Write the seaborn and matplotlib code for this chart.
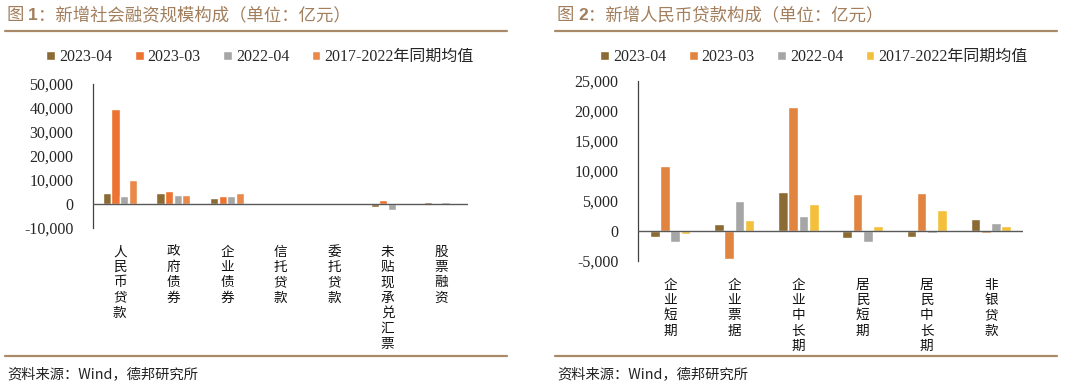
import matplotlib
matplotlib.use("Agg")
import matplotlib.pyplot as plt
from matplotlib.lines import Line2D
from matplotlib.ticker import FuncFormatter
import seaborn as sns
import pandas as pd

sns.set_theme(style="white")
plt.rcParams['font.family'] = ['Liberation Serif', 'Noto Sans CJK SC']

# ---------------- data ----------------
series = ["2023-04", "2023-03", "2022-04", "2017-2022年同期均值"]

cats1 = ["人民币贷款", "政府债券", "企业债券", "信托贷款", "委托贷款", "未贴现承兑汇票", "股票融资"]
s1_2304 = [4431, 4548, 2600, -50, 30, -1100, 700]
s1_2303 = [39400, 5600, 3200, -30, 20, 1500, 100]
s1_2204 = [3300, 3900, 3400, -40, -30, -2300, 800]
s1_avg = [10200, 3800, 4600, -40, -100, -150, 500]

cats2 = ["企业短期", "企业票据", "企业中长期", "居民短期", "居民中长期", "非银贷款"]
s2_2304 = [-950, 1150, 6550, -1100, -1050, 2050]
s2_2303 = [10800, -4700, 20650, 6100, 6330, -380]
s2_2204 = [-1830, 5050, 2550, -1780, -280, 1330]
s2_avg = [-440, 1830, 4500, 780, 3440, 890]

yticks1 = [-10000, 0, 10000, 20000, 30000, 40000, 50000]
yticks2 = [-5000, 0, 5000, 10000, 15000, 20000, 25000]

title1_a, title1_b = "图 ", "1"
title1_c = "：新增社会融资规模构成（单位：亿元）"
title2_a, title2_b = "图 ", "2"
title2_c = "：新增人民币贷款构成（单位：亿元）"
source = "资料来源：Wind，德邦研究所"

pal1 = ["#8C6A33", "#EE7330", "#A6A6A6", "#E8894A"]
pal2 = ["#8C6A33", "#E0843F", "#A6A6A6", "#F4C03C"]


def long_df(cats, cols):
    rows = []
    for s, vals in zip(series, cols):
        for c, v in zip(cats, vals):
            rows.append({"cat": c, "series": s, "val": v})
    return pd.DataFrame(rows)


df1 = long_df(cats1, [s1_2304, s1_2303, s1_2204, s1_avg])
df2 = long_df(cats2, [s2_2304, s2_2303, s2_2204, s2_avg])

W, H = 1080, 389
fig = plt.figure(figsize=(W / 100, H / 100), dpi=100)


def px_axes(x0, x1, ytop, ybot):
    return fig.add_axes([x0 / W, 1 - ybot / H, (x1 - x0) / W, (ybot - ytop) / H])


ax1 = px_axes(93, 468, 84, 228)
ax2 = px_axes(638, 1023, 81, 261)

fmt = FuncFormatter(lambda v, p: f"{int(v):,}")
serif_font = ['Liberation Serif', 'Noto Sans CJK SC']

for ax, df, cats, pal, yt, legx in [
    (ax1, df1, cats1, pal1, yticks1, 260),
    (ax2, df2, cats2, pal2, yticks2, 814),
]:
    sns.barplot(data=df, x="cat", y="val", hue="series", order=cats,
                hue_order=series, palette=pal, width=0.64, gap=0.06,
                saturation=1, ax=ax, legend=True)
    ax.set_xlim(-0.5, len(cats) - 0.5)
    ax.set_ylim(yt[0], yt[-1])
    ax.set_yticks(yt)
    ax.yaxis.set_major_formatter(fmt)
    ax.set_xlabel("")
    ax.set_ylabel("")
    ax.set_xticks(range(len(cats)))
    ax.set_xticklabels(["\n".join(c) for c in cats], family=['Noto Sans CJK SC'],
                       fontsize=9.8, linespacing=1.12, va="top", color="#111111")
    ax.tick_params(axis="x", length=0, pad=12)
    ax.tick_params(axis="y", direction="in", length=4, width=0.9,
                   color="#404040", labelsize=11.5, pad=14)
    for lab in ax.get_yticklabels():
        lab.set_family(serif_font)
    for s in ["top", "right", "bottom"]:
        ax.spines[s].set_visible(False)
    ax.spines["left"].set_color("#404040")
    ax.spines["left"].set_linewidth(0.9)
    ax.axhline(0, color="#595959", lw=1.0, zorder=3)
    ax.patch.set_alpha(0)
    handles, labels = ax.get_legend_handles_labels()
    ax.get_legend().remove()
    fig.legend(handles, labels, loc="center", bbox_to_anchor=(legx / W, 1 - 57 / H),
               ncol=4, frameon=False, handlelength=0.55,
               handleheight=0.55, handletextpad=0.25, columnspacing=1.4,
               prop={"family": serif_font, "size": 11.5})

# titles, rules, source
title_color = "#A27E5C"
rule_color = "#A88A68"
cjk = ['Noto Sans CJK SC', 'DejaVu Sans']
for x0, (ta, tb, tc) in [(7, (title1_a, title1_b, title1_c)),
                         (557, (title2_a, title2_b, title2_c))]:
    t = fig.text(x0 / W, 1 - 15 / H, ta, family=cjk, fontsize=12.5,
                 color=title_color, va="center", ha="left")
    fig.canvas.draw()
    bb = t.get_window_extent()
    t2 = fig.text(bb.x1 / W, 1 - 15 / H, tb, family=['Liberation Sans'], fontsize=12.5,
                  weight="bold", color=title_color, va="center", ha="left")
    fig.canvas.draw()
    bb2 = t2.get_window_extent()
    fig.text(bb2.x1 / W, 1 - 15 / H, tc, family=cjk, fontsize=12.5,
             color=title_color, va="center", ha="left")

for (xa, xb) in [(5, 507), (555, 1057)]:
    fig.add_artist(Line2D([xa / W, xb / W], [1 - 31 / H, 1 - 31 / H],
                          color=rule_color, lw=1.6))
    fig.add_artist(Line2D([xa / W, xb / W], [1 - 356 / H, 1 - 356 / H],
                          color=rule_color, lw=1.6))
for x0 in (7, 557):
    fig.text(x0 / W, 1 - 374 / H, source, family=cjk,
             fontsize=10.3, color="#222222", va="center", ha="left")

fig.savefig("out.png", dpi=100)
